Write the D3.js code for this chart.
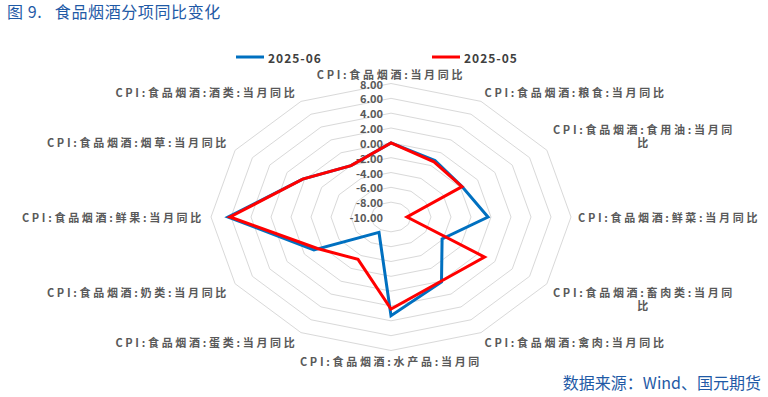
<!DOCTYPE html>
<meta charset="utf-8">
<style>
body { margin: 0; background: #fff; }
text { font-family: "Noto Sans CJK SC", "Noto Sans", sans-serif; }
.grid { fill: none; stroke: #d9d9d9; stroke-width: 1; }
.tick { font-size: 11px; font-weight: bold; fill: #595959; text-anchor: end; }
.cat { font-size: 11px; font-weight: bold; fill: #595959; letter-spacing: 2.7px; }
.series { fill: none; stroke-width: 3; }
.legend { font-size: 12px; font-weight: bold; fill: #404040; letter-spacing: 1px; }
</style>
<body></body>
<script src="https://d3js.org/d3.v7.min.js"></script>
<script>

// categories clockwise from the top
var categories = [
  "CPI:食品烟酒:当月同比",
  "CPI:食品烟酒:粮食:当月同比",
  "CPI:食品烟酒:食用油:当月同比",
  "CPI:食品烟酒:鲜菜:当月同比",
  "CPI:食品烟酒:畜肉类:当月同比",
  "CPI:食品烟酒:禽肉:当月同比",
  "CPI:食品烟酒:水产品:当月同比",
  "CPI:食品烟酒:蛋类:当月同比",
  "CPI:食品烟酒:奶类:当月同比",
  "CPI:食品烟酒:鲜果:当月同比",
  "CPI:食品烟酒:烟草:当月同比",
  "CPI:食品烟酒:酒类:当月同比"
];

// how the labels show up in the picture (wrapped / clipped)
var labelLines = [
  ["CPI:食品烟酒:当月同比"],
  ["CPI:食品烟酒:粮食:当月同比"],
  ["CPI:食品烟酒:食用油:当月同", "比"],
  ["CPI:食品烟酒:鲜菜:当月同比"],
  ["CPI:食品烟酒:畜肉类:当月同", "比"],
  ["CPI:食品烟酒:禽肉:当月同比"],
  ["CPI:食品烟酒:水产品:当月同"],
  ["CPI:食品烟酒:蛋类:当月同比"],
  ["CPI:食品烟酒:奶类:当月同比"],
  ["CPI:食品烟酒:鲜果:当月同比"],
  ["CPI:食品烟酒:烟草:当月同比"],
  ["CPI:食品烟酒:酒类:当月同比"]
];

var jun2025 = [0.0, -1.2, -1.8, -0.3, -4.1, 0.1, 3.3, -7.6, -1.1, 6.3, 0.2, -2.0];
var may2025 = [0.0, -1.4, -1.8, -8.4, 0.8, 0.0, 2.4, -3.4, -1.5, 6.1, 0.2, -2.0];

var seriesNames = ["2025-06", "2025-05"];
var seriesColors = ["#0070c0", "#ff0000"];
var ticks = [-10, -8, -6, -4, -2, 0, 2, 4, 6, 8];

var width = 768, height = 397;
var cx = 391, cy = 217;

// radial scales (the plot is stretched horizontally)
var rX = d3.scaleLinear().domain([-10, 8]).range([0, 180]);
var rY = d3.scaleLinear().domain([-10, 8]).range([0, 133.5]);
var angle = d3.scaleLinear().domain([0, categories.length]).range([0, 2 * Math.PI]);

function px(i, v) { return cx + rX(v) * Math.sin(angle(i)); }
function py(i, v) { return cy - rY(v) * Math.cos(angle(i)); }

var svg = d3.select("body").append("svg")
    .attr("width", width)
    .attr("height", height);

// grid rings
var ring = d3.line().curve(d3.curveLinearClosed);
svg.selectAll(".grid")
    .data(ticks.filter(function(t) { return t > -10; }))
  .enter().append("path")
    .attr("class", "grid")
    .attr("d", function(t) {
      return ring(categories.map(function(c, i) { return [px(i, t), py(i, t)]; }));
    });

// value labels on the vertical axis
svg.selectAll(".tick")
    .data(ticks)
  .enter().append("text")
    .attr("class", "tick")
    .attr("x", cx - 8)
    .attr("y", function(t) { return cy - rY(t); })
    .attr("dominant-baseline", "central")
    .text(function(t) { return d3.format(".2f")(t).replace("−", "-"); });

// series
var series = [jun2025, may2025];
svg.selectAll(".series")
    .data(series)
  .enter().append("path")
    .attr("class", "series")
    .attr("stroke", function(d, k) { return seriesColors[k]; })
    .attr("d", function(d) {
      return ring(d.map(function(v, i) { return [px(i, v), py(i, v)]; }));
    });

// category labels
var lineH = 13;
labelLines.forEach(function(lines, i) {
  var a = angle(i), s = Math.sin(a), c = Math.cos(a);
  var ax = px(i, 8) + 7 * s;
  var ay = py(i, 8) - 3.5 * c;
  var blockH = lines.length * lineH;
  var top;
  if (c > 0.1) top = ay - blockH;
  else if (c < -0.1) top = ay;
  else top = ay - blockH / 2;

  var t = svg.append("text").attr("class", "cat").attr("text-anchor", "middle");
  var spans = lines.map(function(l, k) {
    return t.append("tspan")
      .attr("y", top + lineH * (k + 0.5))
      .attr("dominant-baseline", "central")
      .text(l);
  });
  var w = d3.max(spans, function(sp) { return sp.node().getComputedTextLength(); });
  var mid;
  if (s > 0.1) mid = ax + w / 2;
  else if (s < -0.1) mid = ax - w / 2;
  else mid = ax;
  spans.forEach(function(sp) { sp.attr("x", mid); });
});

// legend
var legendX = [236, 432];
seriesNames.forEach(function(name, k) {
  svg.append("line")
    .attr("x1", legendX[k]).attr("x2", legendX[k] + 28)
    .attr("y1", 57).attr("y2", 57)
    .attr("stroke", seriesColors[k])
    .attr("stroke-width", 3);
  svg.append("text")
    .attr("class", "legend")
    .attr("x", legendX[k] + 32)
    .attr("y", 57)
    .attr("dominant-baseline", "central")
    .text(name);
});

// title
svg.append("text")
    .attr("x", 7)
    .attr("y", 18)
    .style("font-size", "16px")
    .style("letter-spacing", "0.6px")
    .style("white-space", "pre")
    .style("fill", "#1f5aa6")
    .text("图 9.   食品烟酒分项同比变化");

// source
svg.append("text")
    .attr("x", 761)
    .attr("y", 389)
    .attr("text-anchor", "end")
    .style("font-size", "16px")
    .style("fill", "#1f5aa6")
    .text("数据来源：Wind、国元期货");

</script>
